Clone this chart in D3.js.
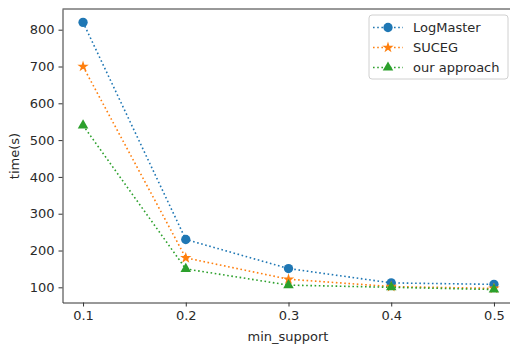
<!DOCTYPE html>
<html><head><meta charset="utf-8">
<script src="https://cdn.jsdelivr.net/npm/d3@7"></script>
<style>body{margin:0;background:#fff;} text{font-family:"DejaVu Sans",sans-serif;}</style>
</head><body><svg id="c" width="510" height="347"></svg>
<script>
const xValues = [0.1, 0.2, 0.3, 0.4, 0.5];
const logMaster = [820, 230, 151, 112, 108];
const suceg = [700, 180, 122, 102, 97];
const ours = [540, 150, 106, 100, 94];
const seriesNames = ["LogMaster", "SUCEG", "our approach"];
const xTicks = [0.1, 0.2, 0.3, 0.4, 0.5];
const yTicks = [100, 200, 300, 400, 500, 600, 700, 800];

const svg = d3.select("#c");
const L = 62.5, R = 514.5, T = 9, B = 302.5;
const x = d3.scaleLinear().domain([0.08, 0.52]).range([L, R]);
const y = d3.scaleLinear().domain([58.75, 856.25]).range([B, T]);
const colors = ["#1f77b4", "#ff7f0e", "#2ca02c"];
const symbols = [d3.symbolCircle, d3.symbolStar, d3.symbolTriangle];
const sizes = [68, 40, 48];
const data = [logMaster, suceg, ours];

// axes
const gx = svg.append("g").attr("transform", `translate(0,${B})`)
  .call(d3.axisBottom(x).tickValues(xTicks).tickFormat(d3.format(".1f")).tickSize(4).tickSizeOuter(0).tickPadding(4));
const gy = svg.append("g").attr("transform", `translate(${L},0)`)
  .call(d3.axisLeft(y).tickValues(yTicks).tickSize(4).tickSizeOuter(0).tickPadding(4));
[gx, gy].forEach(g => {
  g.selectAll("text").attr("font-size", 13).attr("fill", "#2a2a2a").attr("font-family", "DejaVu Sans");
  g.selectAll("line").attr("stroke", "#333").attr("stroke-width", 1);
  g.select(".domain").attr("stroke", "#333").attr("stroke-width", 1);
});
// top spine
svg.append("line").attr("x1", L).attr("x2", R).attr("y1", T).attr("y2", T).attr("stroke", "#333");

const line = d3.line().x((d, i) => x(xValues[i])).y(d => y(d));
data.forEach((s, k) => {
  svg.append("path").datum(s).attr("d", line).attr("fill", "none")
    .attr("stroke", colors[k]).attr("stroke-width", 1.6).attr("stroke-dasharray", "1.6,2.6");
  svg.selectAll(null).data(s).enter().append("path")
    .attr("d", d3.symbol().type(symbols[k]).size(sizes[k]))
    .attr("transform", (d, i) => `translate(${x(xValues[i])},${y(d)})`)
    .attr("fill", colors[k]);
});

// labels
svg.append("text").attr("x", 288).attr("y", 341).attr("text-anchor", "middle")
  .attr("font-size", 13).attr("fill", "#2a2a2a").text("min_support");
svg.append("text").attr("transform", "translate(19,156) rotate(-90)").attr("text-anchor", "middle")
  .attr("font-size", 13).attr("fill", "#2a2a2a").text("time(s)");

// legend
const lg = svg.append("g");
lg.append("rect").attr("x", 369).attr("y", 15).attr("width", 139).attr("height", 64).attr("rx", 3)
  .attr("fill", "#fff").attr("fill-opacity", 0.8).attr("stroke", "#d0d0d0");
seriesNames.forEach((n, k) => {
  const yy = 27.5 + k * 20;
  lg.append("line").attr("x1", 373).attr("x2", 403).attr("y1", yy).attr("y2", yy)
    .attr("stroke", colors[k]).attr("stroke-width", 1.6).attr("stroke-dasharray", "1.6,2.6");
  lg.append("path").attr("d", d3.symbol().type(symbols[k]).size(sizes[k]))
    .attr("transform", `translate(388,${yy})`).attr("fill", colors[k]);
  lg.append("text").attr("x", 413).attr("y", yy + 4.5).attr("font-size", 13).attr("fill", "#2a2a2a").text(n);
});
</script></body></html>
